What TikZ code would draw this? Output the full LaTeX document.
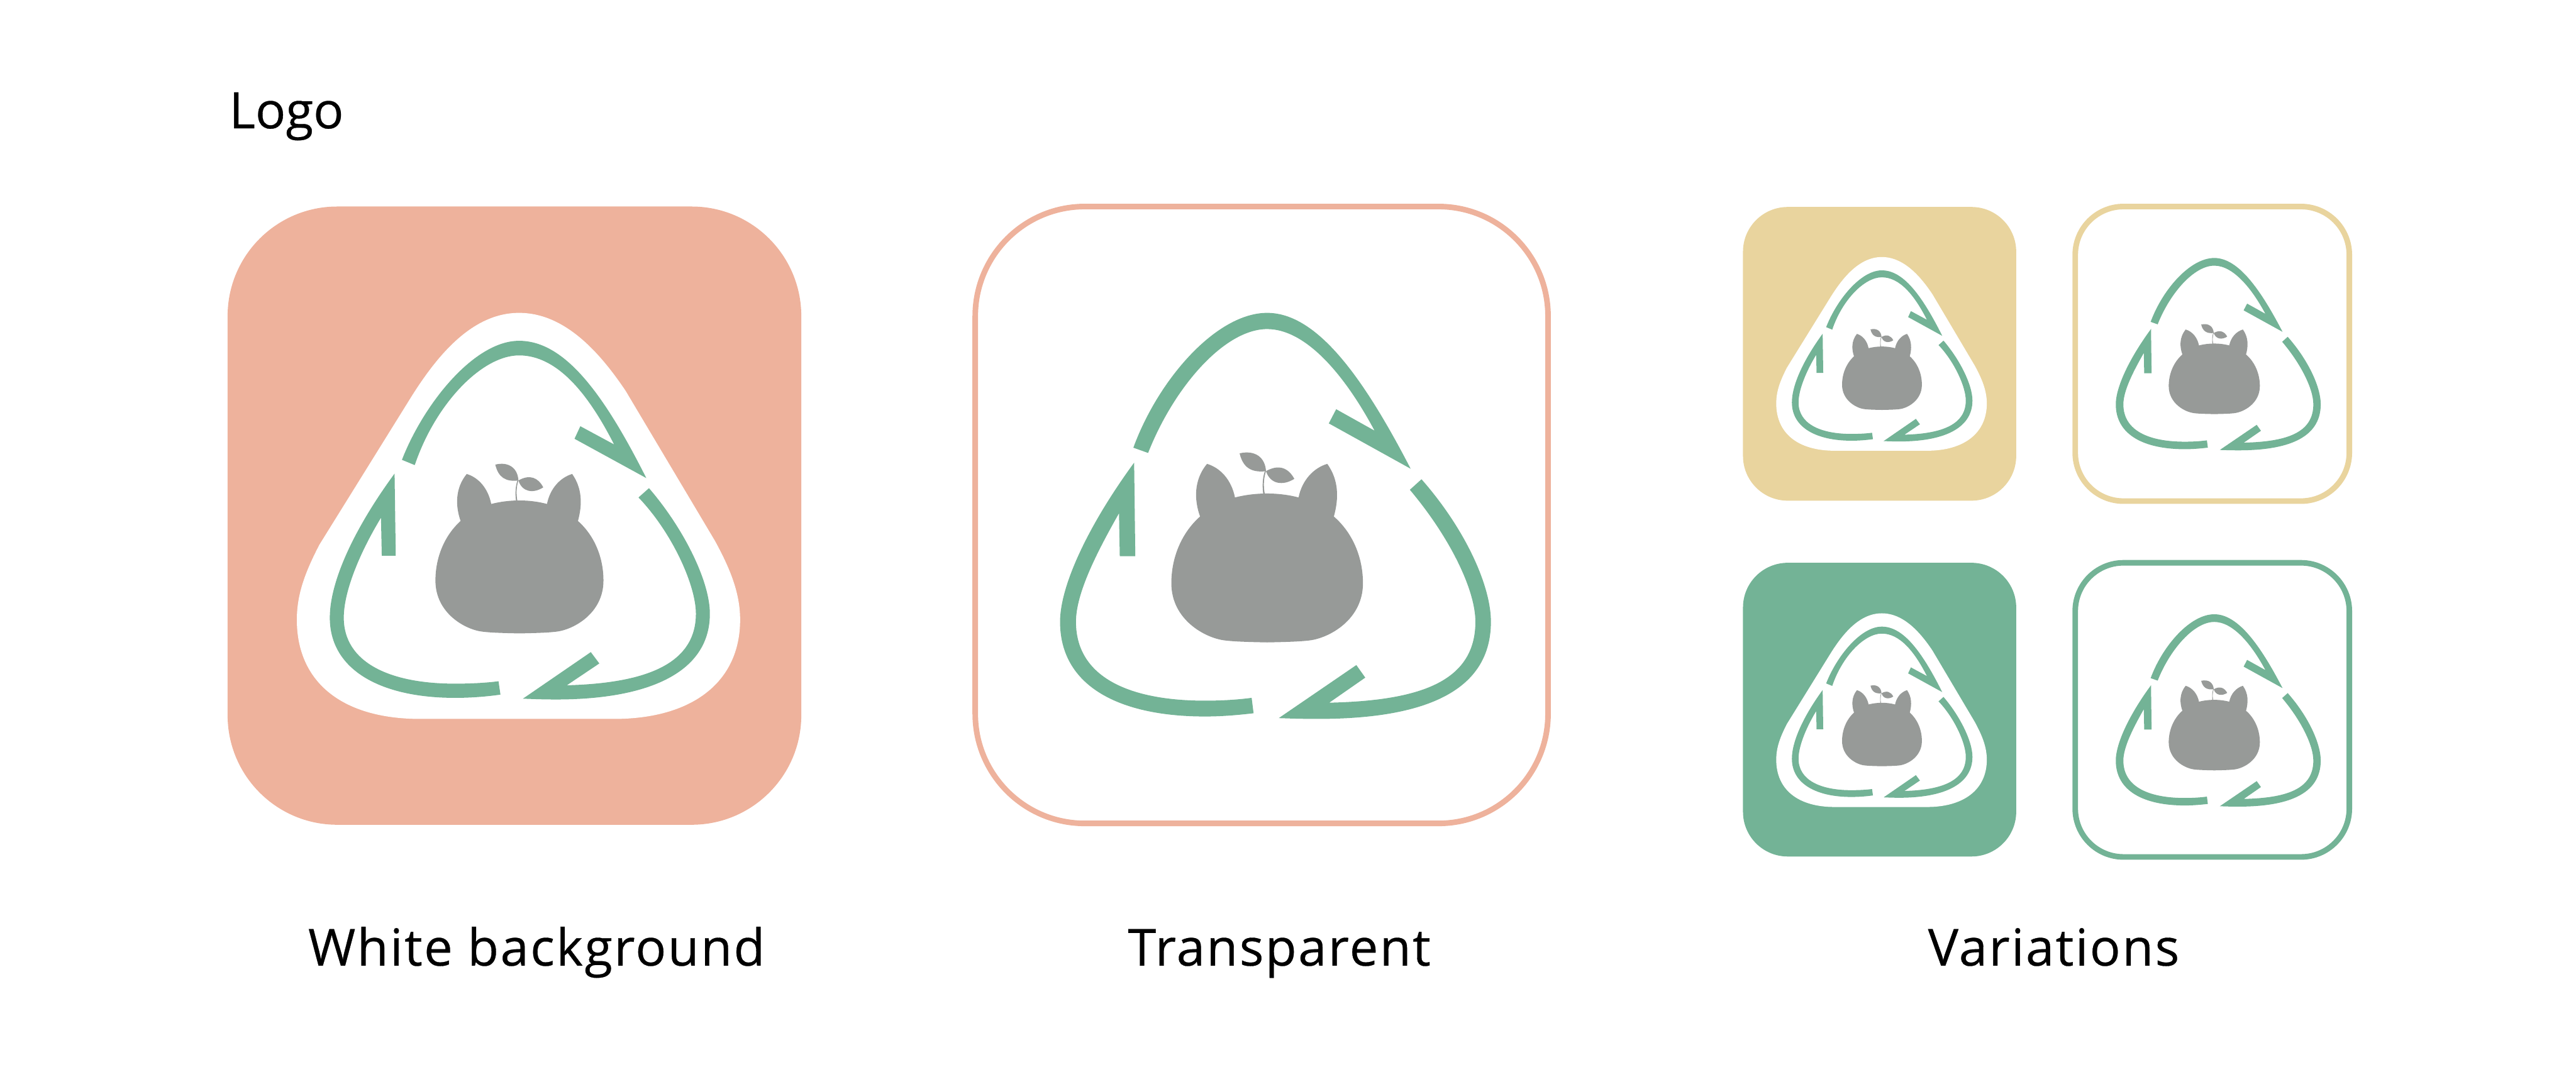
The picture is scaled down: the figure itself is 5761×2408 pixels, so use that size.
\documentclass[tikz,border=0pt]{standalone}
\usepackage{fontspec}
\setmainfont[FakeBold=0.4]{Open Sans}
\newfontfamily\spacedfont[LetterSpace=3,FakeBold=0.4]{Open Sans}
\usepackage{xcolor}
\usetikzlibrary{positioning}
\definecolor{salmon}{HTML}{EEB29C}
\definecolor{sage}{HTML}{73B396}
\definecolor{straw}{HTML}{E9D49E}
\definecolor{stone}{HTML}{979A98}

\tikzset{
  caption/.style={font=\spacedfont\fontsize{32.5}{40}\selectfont, inner sep=0pt, text=black, anchor=base},
  tile/.style={line width=0.125cm, fill=white},
}

% the little creature with its sprout
\newcommand{\critter}{
  \fill[stone] (800,1101) .. controls (750,1100) and (715,1099) .. (690,1096)
    .. controls (640,1090) and (553,1045) .. (553,955)
    .. controls (553,890) and (580,830) .. (627,790)
    .. controls (612,750) and (610,700) .. (645,660)
    .. controls (680,670) and (708,700) .. (717,743)
    .. controls (770,730) and (830,730) .. (881,743)
    .. controls (890,700) and (920,670) .. (955,660)
    .. controls (985,700) and (985,745) .. (972,790)
    .. controls (1020,830) and (1047,890) .. (1047,955)
    .. controls (1047,1045) and (960,1090) .. (910,1096)
    .. controls (885,1099) and (850,1100) .. (800,1101) -- cycle;
  \fill[stone] (729,634) .. controls (770,625) and (795,645) .. (797,678)
    .. controls (760,682) and (738,670) .. (729,634) -- cycle;
  \fill[stone] (797,678) .. controls (830,660) and (855,670) .. (870,697)
    .. controls (840,715) and (808,710) .. (797,678) -- cycle;
  \fill[stone] (794,678) .. controls (788,695) and (787,715) .. (790,735)
    -- (794,735) .. controls (790,715) and (791,695) .. (797,678) -- cycle;
}

% arrows of the bare logo
\newcommand{\ringplain}{
  \fill[sage] (455,620) .. controls (520,450) and (670,287) .. (800,287)
    .. controls (930,287) and (1050,450) .. (1170,672) -- (959,560) -- (978,525) -- (1077,578)
    .. controls (1000,440) and (900,327) .. (800,327)
    .. controls (690,327) and (560,470) .. (493,633) -- cycle;
  \fill[sage] (457,657) -- (460,888) -- (420,888) -- (418,782)
    .. controls (360,880) and (307,980) .. (307,1050)
    .. controls (307,1190) and (450,1245) .. (640,1245)
    .. controls (680,1245) and (720,1243) .. (760,1238) -- (765,1276)
    .. controls (720,1281) and (680,1284) .. (640,1284)
    .. controls (420,1284) and (266,1210) .. (266,1050)
    .. controls (266,960) and (340,810) .. (457,657) -- cycle;
  \fill[sage] (1198,698) .. controls (1310,820) and (1377,960) .. (1377,1050)
    .. controls (1377,1230) and (1190,1290) .. (930,1290)
    .. controls (890,1290) and (860,1289) .. (830,1288)
    -- (1030,1157) -- (1053,1188) -- (960,1250)
    .. controls (1190,1245) and (1337,1200) .. (1337,1050)
    .. controls (1337,970) and (1270,840) .. (1168,724) -- cycle;
}

% arrows of the logo on a white patch
\newcommand{\ringpatch}{
  \fill[white] (785,287) .. controls (900,287) and (990,380) .. (1060,480) -- (1290,850)
    .. controls (1330,920) and (1355,980) .. (1355,1045)
    .. controls (1355,1200) and (1230,1290) .. (1030,1290) -- (530,1290)
    .. controls (330,1290) and (212,1200) .. (212,1045)
    .. controls (212,980) and (235,925) .. (270,860) -- (510,490)
    .. controls (570,400) and (660,287) .. (785,287) -- cycle;
  \fill[sage] (483,650) .. controls (540,510) and (670,356) .. (785,356)
    .. controls (900,356) and (1000,480) .. (1113,695) -- (928,598) -- (943,567) -- (1030,612)
    .. controls (960,480) and (880,392) .. (785,392)
    .. controls (690,392) and (570,510) .. (516,663) -- cycle;
  \fill[sage] (464,684) -- (467,887) -- (431,887) -- (429,793)
    .. controls (380,870) and (333,970) .. (333,1040)
    .. controls (333,1150) and (450,1203) .. (620,1203)
    .. controls (660,1203) and (700,1201) .. (732,1197) -- (737,1230)
    .. controls (700,1235) and (660,1238) .. (620,1238)
    .. controls (430,1238) and (297,1170) .. (297,1040)
    .. controls (297,950) and (360,820) .. (464,684) -- cycle;
  \fill[sage] (1120,720) .. controls (1210,820) and (1277,950) .. (1277,1030)
    .. controls (1277,1180) and (1110,1242) .. (880,1242)
    .. controls (850,1242) and (820,1241) .. (795,1240)
    -- (970,1125) -- (992,1153) -- (908,1207)
    .. controls (1100,1202) and (1241,1160) .. (1241,1030)
    .. controls (1241,960) and (1180,830) .. (1093,743) -- cycle;
  \begin{scope}[shift={(84.4,95.6)}, xscale=0.877, yscale=0.893]
    \critter
  \end{scope}
}

\begin{document}
\begin{tikzpicture}[x=0.01cm, y=-0.01cm]
  \useasboundingbox (0,0) rectangle (5761,2408);

  % main logos
  \fill[salmon, rounded corners=2.45cm] (509,462) rectangle (1792,1845);
  \begin{scope}[shift={(480,440)}, xscale=0.8673, yscale=0.9056]
    \ringpatch
  \end{scope}

  \draw[tile, draw=salmon, rounded corners=2.45cm] (2181,462) rectangle (3462,1842);
  \begin{scope}[shift={(2140,440)}, xscale=0.8673, yscale=0.9056]
    \ringplain
    \critter
  \end{scope}

  % variations
  \fill[straw, rounded corners=1cm] (3898,463) rectangle (4509,1120);
  \begin{scope}[shift={(3885,451)}, xscale=0.412, yscale=0.432]
    \ringpatch
  \end{scope}

  \draw[tile, draw=straw, rounded corners=1.08cm] (4641,462) rectangle (5254,1121);
  \begin{scope}[shift={(4622,454)}, xscale=0.4125, yscale=0.429]
    \ringplain
    \critter
  \end{scope}

  \fill[sage, rounded corners=1cm] (3898,1259) rectangle (4509,1916);
  \begin{scope}[shift={(3885,1248)}, xscale=0.412, yscale=0.432]
    \ringpatch
  \end{scope}

  \draw[tile, draw=sage, rounded corners=1.08cm] (4641,1259) rectangle (5254,1917);
  \begin{scope}[shift={(4622,1251)}, xscale=0.4125, yscale=0.429]
    \ringplain
    \critter
  \end{scope}

  % labels
  \node[caption, font=\fontsize{32}{40}\selectfont, anchor=base west] (heading) at (512,287) {Logo};
  \node[caption] (whitelabel) at (1200,2160) {White background};
  \node[caption] (clearlabel) at (2861,2160) {Transparent};
  \node[caption] (varlabel) at (4593,2160) {Variations};
\end{tikzpicture}
\end{document}
